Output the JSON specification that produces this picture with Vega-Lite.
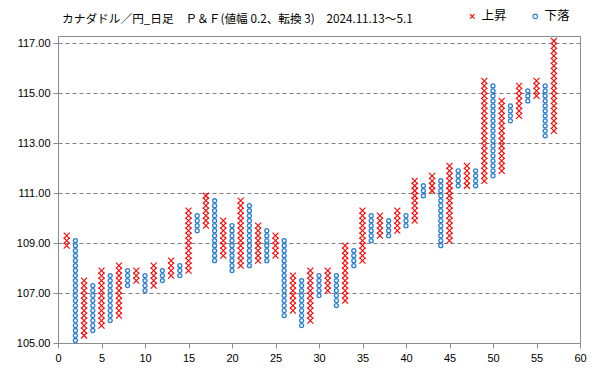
{
  "$schema": "https://vega.github.io/schema/vega-lite/v6.json",
  "autosize": {"type": "none"},
  "padding": {"left": 58, "top": 36, "right": 19, "bottom": 26},
  "width": 522,
  "height": 307,
  "background": "white",
  "title": {
    "text": "カナダドル／円_日足　Ｐ＆Ｆ(値幅 0.2、転換 3)　2024.11.13～5.1",
    "anchor": "start",
    "frame": "group",
    "orient": "top",
    "offset": 12,
    "dx": 4,
    "dy": 33,
    "baseline": "middle",
    "font": "Noto Sans CJK JP",
    "fontSize": 11.7,
    "fontWeight": "normal",
    "color": "#000000"
  },
  "datasets": {
    "up": [
      {"c":1,"p":108.9},{"c":1,"p":109.1},{"c":1,"p":109.3},
      {"c":3,"p":105.3},{"c":3,"p":105.5},{"c":3,"p":105.7},{"c":3,"p":105.9},{"c":3,"p":106.1},{"c":3,"p":106.3},{"c":3,"p":106.5},{"c":3,"p":106.7},{"c":3,"p":106.9},{"c":3,"p":107.1},{"c":3,"p":107.3},{"c":3,"p":107.5},
      {"c":5,"p":105.7},{"c":5,"p":105.9},{"c":5,"p":106.1},{"c":5,"p":106.3},{"c":5,"p":106.5},{"c":5,"p":106.7},{"c":5,"p":106.9},{"c":5,"p":107.1},{"c":5,"p":107.3},{"c":5,"p":107.5},{"c":5,"p":107.7},{"c":5,"p":107.9},
      {"c":7,"p":106.1},{"c":7,"p":106.3},{"c":7,"p":106.5},{"c":7,"p":106.7},{"c":7,"p":106.9},{"c":7,"p":107.1},{"c":7,"p":107.3},{"c":7,"p":107.5},{"c":7,"p":107.7},{"c":7,"p":107.9},{"c":7,"p":108.1},
      {"c":9,"p":107.5},{"c":9,"p":107.7},{"c":9,"p":107.9},
      {"c":11,"p":107.3},{"c":11,"p":107.5},{"c":11,"p":107.7},{"c":11,"p":107.9},{"c":11,"p":108.1},
      {"c":13,"p":107.7},{"c":13,"p":107.9},{"c":13,"p":108.1},{"c":13,"p":108.3},
      {"c":15,"p":107.9},{"c":15,"p":108.1},{"c":15,"p":108.3},{"c":15,"p":108.5},{"c":15,"p":108.7},{"c":15,"p":108.9},{"c":15,"p":109.1},{"c":15,"p":109.3},{"c":15,"p":109.5},{"c":15,"p":109.7},{"c":15,"p":109.9},{"c":15,"p":110.1},{"c":15,"p":110.3},
      {"c":17,"p":109.7},{"c":17,"p":109.9},{"c":17,"p":110.1},{"c":17,"p":110.3},{"c":17,"p":110.5},{"c":17,"p":110.7},{"c":17,"p":110.9},
      {"c":19,"p":108.5},{"c":19,"p":108.7},{"c":19,"p":108.9},{"c":19,"p":109.1},{"c":19,"p":109.3},{"c":19,"p":109.5},{"c":19,"p":109.7},{"c":19,"p":109.9},
      {"c":21,"p":108.1},{"c":21,"p":108.3},{"c":21,"p":108.5},{"c":21,"p":108.7},{"c":21,"p":108.9},{"c":21,"p":109.1},{"c":21,"p":109.3},{"c":21,"p":109.5},{"c":21,"p":109.7},{"c":21,"p":109.9},{"c":21,"p":110.1},{"c":21,"p":110.3},{"c":21,"p":110.5},{"c":21,"p":110.7},
      {"c":23,"p":108.3},{"c":23,"p":108.5},{"c":23,"p":108.7},{"c":23,"p":108.9},{"c":23,"p":109.1},{"c":23,"p":109.3},{"c":23,"p":109.5},{"c":23,"p":109.7},
      {"c":25,"p":108.5},{"c":25,"p":108.7},{"c":25,"p":108.9},{"c":25,"p":109.1},{"c":25,"p":109.3},
      {"c":27,"p":106.3},{"c":27,"p":106.5},{"c":27,"p":106.7},{"c":27,"p":106.9},{"c":27,"p":107.1},{"c":27,"p":107.3},{"c":27,"p":107.5},{"c":27,"p":107.7},
      {"c":29,"p":105.9},{"c":29,"p":106.1},{"c":29,"p":106.3},{"c":29,"p":106.5},{"c":29,"p":106.7},{"c":29,"p":106.9},{"c":29,"p":107.1},{"c":29,"p":107.3},{"c":29,"p":107.5},{"c":29,"p":107.7},{"c":29,"p":107.9},
      {"c":31,"p":107.1},{"c":31,"p":107.3},{"c":31,"p":107.5},{"c":31,"p":107.7},{"c":31,"p":107.9},
      {"c":33,"p":106.7},{"c":33,"p":106.9},{"c":33,"p":107.1},{"c":33,"p":107.3},{"c":33,"p":107.5},{"c":33,"p":107.7},{"c":33,"p":107.9},{"c":33,"p":108.1},{"c":33,"p":108.3},{"c":33,"p":108.5},{"c":33,"p":108.7},{"c":33,"p":108.9},
      {"c":35,"p":108.3},{"c":35,"p":108.5},{"c":35,"p":108.7},{"c":35,"p":108.9},{"c":35,"p":109.1},{"c":35,"p":109.3},{"c":35,"p":109.5},{"c":35,"p":109.7},{"c":35,"p":109.9},{"c":35,"p":110.1},{"c":35,"p":110.3},
      {"c":37,"p":109.3},{"c":37,"p":109.5},{"c":37,"p":109.7},{"c":37,"p":109.9},{"c":37,"p":110.1},
      {"c":39,"p":109.5},{"c":39,"p":109.7},{"c":39,"p":109.9},{"c":39,"p":110.1},{"c":39,"p":110.3},
      {"c":41,"p":109.9},{"c":41,"p":110.1},{"c":41,"p":110.3},{"c":41,"p":110.5},{"c":41,"p":110.7},{"c":41,"p":110.9},{"c":41,"p":111.1},{"c":41,"p":111.3},{"c":41,"p":111.5},
      {"c":43,"p":111.1},{"c":43,"p":111.3},{"c":43,"p":111.5},{"c":43,"p":111.7},
      {"c":45,"p":109.1},{"c":45,"p":109.3},{"c":45,"p":109.5},{"c":45,"p":109.7},{"c":45,"p":109.9},{"c":45,"p":110.1},{"c":45,"p":110.3},{"c":45,"p":110.5},{"c":45,"p":110.7},{"c":45,"p":110.9},{"c":45,"p":111.1},{"c":45,"p":111.3},{"c":45,"p":111.5},{"c":45,"p":111.7},{"c":45,"p":111.9},{"c":45,"p":112.1},
      {"c":47,"p":111.3},{"c":47,"p":111.5},{"c":47,"p":111.7},{"c":47,"p":111.9},{"c":47,"p":112.1},
      {"c":49,"p":111.5},{"c":49,"p":111.7},{"c":49,"p":111.9},{"c":49,"p":112.1},{"c":49,"p":112.3},{"c":49,"p":112.5},{"c":49,"p":112.7},{"c":49,"p":112.9},{"c":49,"p":113.1},{"c":49,"p":113.3},{"c":49,"p":113.5},{"c":49,"p":113.7},{"c":49,"p":113.9},{"c":49,"p":114.1},{"c":49,"p":114.3},{"c":49,"p":114.5},{"c":49,"p":114.7},{"c":49,"p":114.9},{"c":49,"p":115.1},{"c":49,"p":115.3},{"c":49,"p":115.5},
      {"c":51,"p":111.9},{"c":51,"p":112.1},{"c":51,"p":112.3},{"c":51,"p":112.5},{"c":51,"p":112.7},{"c":51,"p":112.9},{"c":51,"p":113.1},{"c":51,"p":113.3},{"c":51,"p":113.5},{"c":51,"p":113.7},{"c":51,"p":113.9},{"c":51,"p":114.1},{"c":51,"p":114.3},{"c":51,"p":114.5},{"c":51,"p":114.7},
      {"c":53,"p":114.1},{"c":53,"p":114.3},{"c":53,"p":114.5},{"c":53,"p":114.7},{"c":53,"p":114.9},{"c":53,"p":115.1},{"c":53,"p":115.3},
      {"c":55,"p":114.9},{"c":55,"p":115.1},{"c":55,"p":115.3},{"c":55,"p":115.5},
      {"c":57,"p":113.5},{"c":57,"p":113.7},{"c":57,"p":113.9},{"c":57,"p":114.1},{"c":57,"p":114.3},{"c":57,"p":114.5},{"c":57,"p":114.7},{"c":57,"p":114.9},{"c":57,"p":115.1},{"c":57,"p":115.3},{"c":57,"p":115.5},{"c":57,"p":115.7},{"c":57,"p":115.9},{"c":57,"p":116.1},{"c":57,"p":116.3},{"c":57,"p":116.5},{"c":57,"p":116.7},{"c":57,"p":116.9},{"c":57,"p":117.1}
    ],
    "down": [
      {"c":2,"p":105.1},{"c":2,"p":105.3},{"c":2,"p":105.5},{"c":2,"p":105.7},{"c":2,"p":105.9},{"c":2,"p":106.1},{"c":2,"p":106.3},{"c":2,"p":106.5},{"c":2,"p":106.7},{"c":2,"p":106.9},{"c":2,"p":107.1},{"c":2,"p":107.3},{"c":2,"p":107.5},{"c":2,"p":107.7},{"c":2,"p":107.9},{"c":2,"p":108.1},{"c":2,"p":108.3},{"c":2,"p":108.5},{"c":2,"p":108.7},{"c":2,"p":108.9},{"c":2,"p":109.1},
      {"c":4,"p":105.5},{"c":4,"p":105.7},{"c":4,"p":105.9},{"c":4,"p":106.1},{"c":4,"p":106.3},{"c":4,"p":106.5},{"c":4,"p":106.7},{"c":4,"p":106.9},{"c":4,"p":107.1},{"c":4,"p":107.3},
      {"c":6,"p":105.9},{"c":6,"p":106.1},{"c":6,"p":106.3},{"c":6,"p":106.5},{"c":6,"p":106.7},{"c":6,"p":106.9},{"c":6,"p":107.1},{"c":6,"p":107.3},{"c":6,"p":107.5},{"c":6,"p":107.7},
      {"c":8,"p":107.3},{"c":8,"p":107.5},{"c":8,"p":107.7},{"c":8,"p":107.9},
      {"c":10,"p":107.1},{"c":10,"p":107.3},{"c":10,"p":107.5},{"c":10,"p":107.7},
      {"c":12,"p":107.5},{"c":12,"p":107.7},{"c":12,"p":107.9},
      {"c":14,"p":107.7},{"c":14,"p":107.9},{"c":14,"p":108.1},
      {"c":16,"p":109.5},{"c":16,"p":109.7},{"c":16,"p":109.9},{"c":16,"p":110.1},
      {"c":18,"p":108.3},{"c":18,"p":108.5},{"c":18,"p":108.7},{"c":18,"p":108.9},{"c":18,"p":109.1},{"c":18,"p":109.3},{"c":18,"p":109.5},{"c":18,"p":109.7},{"c":18,"p":109.9},{"c":18,"p":110.1},{"c":18,"p":110.3},{"c":18,"p":110.5},{"c":18,"p":110.7},
      {"c":20,"p":107.9},{"c":20,"p":108.1},{"c":20,"p":108.3},{"c":20,"p":108.5},{"c":20,"p":108.7},{"c":20,"p":108.9},{"c":20,"p":109.1},{"c":20,"p":109.3},{"c":20,"p":109.5},{"c":20,"p":109.7},
      {"c":22,"p":108.1},{"c":22,"p":108.3},{"c":22,"p":108.5},{"c":22,"p":108.7},{"c":22,"p":108.9},{"c":22,"p":109.1},{"c":22,"p":109.3},{"c":22,"p":109.5},{"c":22,"p":109.7},{"c":22,"p":109.9},{"c":22,"p":110.1},{"c":22,"p":110.3},{"c":22,"p":110.5},
      {"c":24,"p":108.3},{"c":24,"p":108.5},{"c":24,"p":108.7},{"c":24,"p":108.9},{"c":24,"p":109.1},{"c":24,"p":109.3},{"c":24,"p":109.5},
      {"c":26,"p":106.1},{"c":26,"p":106.3},{"c":26,"p":106.5},{"c":26,"p":106.7},{"c":26,"p":106.9},{"c":26,"p":107.1},{"c":26,"p":107.3},{"c":26,"p":107.5},{"c":26,"p":107.7},{"c":26,"p":107.9},{"c":26,"p":108.1},{"c":26,"p":108.3},{"c":26,"p":108.5},{"c":26,"p":108.7},{"c":26,"p":108.9},{"c":26,"p":109.1},
      {"c":28,"p":105.7},{"c":28,"p":105.9},{"c":28,"p":106.1},{"c":28,"p":106.3},{"c":28,"p":106.5},{"c":28,"p":106.7},{"c":28,"p":106.9},{"c":28,"p":107.1},{"c":28,"p":107.3},{"c":28,"p":107.5},
      {"c":30,"p":106.9},{"c":30,"p":107.1},{"c":30,"p":107.3},{"c":30,"p":107.5},{"c":30,"p":107.7},
      {"c":32,"p":106.5},{"c":32,"p":106.7},{"c":32,"p":106.9},{"c":32,"p":107.1},{"c":32,"p":107.3},{"c":32,"p":107.5},{"c":32,"p":107.7},
      {"c":34,"p":108.1},{"c":34,"p":108.3},{"c":34,"p":108.5},{"c":34,"p":108.7},
      {"c":36,"p":109.1},{"c":36,"p":109.3},{"c":36,"p":109.5},{"c":36,"p":109.7},{"c":36,"p":109.9},{"c":36,"p":110.1},
      {"c":38,"p":109.3},{"c":38,"p":109.5},{"c":38,"p":109.7},{"c":38,"p":109.9},
      {"c":40,"p":109.7},{"c":40,"p":109.9},{"c":40,"p":110.1},
      {"c":42,"p":110.9},{"c":42,"p":111.1},{"c":42,"p":111.3},
      {"c":44,"p":108.9},{"c":44,"p":109.1},{"c":44,"p":109.3},{"c":44,"p":109.5},{"c":44,"p":109.7},{"c":44,"p":109.9},{"c":44,"p":110.1},{"c":44,"p":110.3},{"c":44,"p":110.5},{"c":44,"p":110.7},{"c":44,"p":110.9},{"c":44,"p":111.1},{"c":44,"p":111.3},{"c":44,"p":111.5},
      {"c":46,"p":111.3},{"c":46,"p":111.5},{"c":46,"p":111.7},{"c":46,"p":111.9},
      {"c":48,"p":111.3},{"c":48,"p":111.5},{"c":48,"p":111.7},{"c":48,"p":111.9},
      {"c":50,"p":111.7},{"c":50,"p":111.9},{"c":50,"p":112.1},{"c":50,"p":112.3},{"c":50,"p":112.5},{"c":50,"p":112.7},{"c":50,"p":112.9},{"c":50,"p":113.1},{"c":50,"p":113.3},{"c":50,"p":113.5},{"c":50,"p":113.7},{"c":50,"p":113.9},{"c":50,"p":114.1},{"c":50,"p":114.3},{"c":50,"p":114.5},{"c":50,"p":114.7},{"c":50,"p":114.9},{"c":50,"p":115.1},{"c":50,"p":115.3},
      {"c":52,"p":113.9},{"c":52,"p":114.1},{"c":52,"p":114.3},{"c":52,"p":114.5},
      {"c":54,"p":114.7},{"c":54,"p":114.9},{"c":54,"p":115.1},
      {"c":56,"p":113.3},{"c":56,"p":113.5},{"c":56,"p":113.7},{"c":56,"p":113.9},{"c":56,"p":114.1},{"c":56,"p":114.3},{"c":56,"p":114.5},{"c":56,"p":114.7},{"c":56,"p":114.9},{"c":56,"p":115.1},{"c":56,"p":115.3}
    ]
  },
  "encoding": {
    "x": {
      "field": "c", "type": "quantitative",
      "scale": {"domain": [0, 60], "nice": false, "zero": false},
      "axis": {"values": [0,5,10,15,20,25,30,35,40,45,50,55,60], "title": null, "grid": false, "labelFlush": false}
    },
    "y": {
      "field": "p", "type": "quantitative",
      "scale": {"domain": [105, 117.3], "nice": false, "zero": false},
      "axis": {"values": [105,107,109,111,113,115,117], "format": ".2f", "title": null, "grid": true, "labelFlush": false}
    }
  },
  "layer": [
    {
      "data": {"name": "up"},
      "mark": {"type": "point", "filled": false, "size": 36, "strokeWidth": 1.1, "opacity": 1},
      "encoding": {
        "color": {"datum": "上昇", "type": "nominal", "scale": {"domain": ["上昇", "下落"], "range": ["#FF0000", "#2A80D5"]},
          "legend": {"orient": "none", "legendX": 408, "legendY": -26, "direction": "horizontal", "title": null, "labelFont": "Noto Sans CJK JP", "labelFontSize": 12.5, "labelColor": "#000000", "symbolSize": 20, "symbolStrokeWidth": 1.1, "columnPadding": 22, "labelOffset": 3}},
        "shape": {"datum": "上昇", "type": "nominal", "scale": {"domain": ["上昇", "下落"], "range": ["M-1,-1L1,1M-1,1L1,-1", "circle"]}}
      }
    },
    {
      "data": {"name": "down"},
      "mark": {"type": "point", "filled": false, "size": 16, "strokeWidth": 1.3, "opacity": 1},
      "encoding": {
        "color": {"datum": "下落", "type": "nominal"},
        "shape": {"datum": "下落", "type": "nominal"}
      }
    }
  ],
  "config": {
    "view": {"stroke": "#8C8C8C", "strokeWidth": 1},
    "axis": {
      "labelFont": "Liberation Sans",
      "labelFontSize": 11,
      "labelColor": "#000000",
      "domainColor": "#8C8C8C",
      "tickColor": "#8C8C8C",
      "tickSize": 5,
      "gridColor": "#808080",
      "gridDash": [4, 3],
      "gridWidth": 1
    },
    "axisY": {"labelPadding": 3},
    "axisX": {"labelPadding": 4}
  }
}
